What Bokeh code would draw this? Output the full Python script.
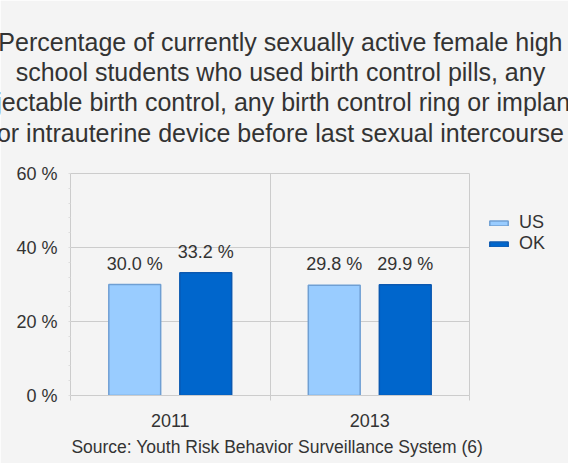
from bokeh.plotting import figure
from bokeh.models import (FixedTicker, Legend, LegendItem, ColumnDataSource,
                          PrintfTickFormatter, LinearAxis)
from bokeh.core.properties import value
from bokeh.embed import file_html
from bokeh.resources import INLINE

# ---- data ----
years = ["2011", "2013"]
us_values = [30.0, 29.8]
ok_values = [33.2, 29.9]
y_ticks = [0, 20, 40, 60]
title_lines = [
    "Percentage of currently sexually active female high",
    "school students who used birth control pills, any",
    "injectable birth control, any birth control ring or implant,",
    "or intrauterine device before last sexual intercourse",
]
source_text = "Source: Youth Risk Behavior Surveillance System (6)"

FONT = "Liberation Sans"
TXT = "#333333"
BG = "#f4f4f4"
GRID = "#cccccc"
US_FILL, US_LINE = "#99ccff", "#6f9fd3"
OK_FILL, OK_LINE = "#0066cc", "#0a58b0"

W, H = 568, 463
FL, FT, FW, FH = 70, 173, 399, 222

p = figure(frame_width=FW, frame_height=FH, x_range=(0, len(years)), y_range=(0, 60),
           output_backend="svg", toolbar_location=None,
           min_border_left=FL, min_border_top=FT,
           min_border_right=W - FL - FW, min_border_bottom=H - FT - FH)
p.background_fill_color = BG
p.border_fill_color = BG
p.outline_line_color = GRID

dodge = 0.178
bw = 0.26
idx = list(range(len(years)))
src = ColumnDataSource(dict(
    x_us=[i + 0.5 - dodge for i in idx],
    x_ok=[i + 0.5 + dodge for i in idx],
    us=us_values, ok=ok_values,
    us_lbl=[f"{v:.1f} %" for v in us_values],
    ok_lbl=[f"{v:.1f} %" for v in ok_values],
))

r_us = p.vbar(x="x_us", top="us", width=bw, source=src, fill_color=US_FILL,
              line_color=US_LINE, line_width=1.5)
r_ok = p.vbar(x="x_ok", top="ok", width=bw, source=src, fill_color=OK_FILL,
              line_color=OK_LINE, line_width=1.5)

for xc, yc, tc in (("x_us", "us", "us_lbl"), ("x_ok", "ok", "ok_lbl")):
    p.text(x=xc, y=yc, text=tc, source=src, y_offset=-21,
           text_align="center", text_baseline="alphabetic",
           text_font=value(FONT), text_font_size="18px", text_color=TXT)

# x axis (category labels between boundary ticks) + source line as its label
xa = p.xaxis[0]
xa.ticker = FixedTicker(ticks=[i + 0.5 for i in idx], minor_ticks=list(range(len(years) + 1)))
xa.major_label_overrides = {i + 0.5: y for i, y in zip(idx, years)}
xa.major_tick_out = 0
xa.major_tick_in = 0
xa.minor_tick_out = 5
xa.minor_tick_in = 0
xa.minor_tick_line_color = GRID
xa.axis_line_color = GRID
xa.major_label_standoff = 13
xa.major_label_text_font = FONT
xa.major_label_text_font_size = "18px"
xa.major_label_text_color = TXT
xa.axis_label = "\u00a0" * 3 + source_text
xa.axis_label_text_font = FONT
xa.axis_label_text_font_size = "17.5px"
xa.axis_label_text_font_style = "normal"
xa.axis_label_text_color = TXT
xa.axis_label_standoff = 7

ya = p.yaxis[0]
ya.ticker = FixedTicker(ticks=y_ticks, minor_ticks=list(range(0, 61, 4)))
ya.formatter = PrintfTickFormatter(format="%d %%")
ya.major_tick_out = 0
ya.major_tick_in = 0
ya.minor_tick_out = 2
ya.minor_tick_in = 0
ya.minor_tick_line_color = "#dddddd"
ya.axis_line_color = GRID
ya.major_label_standoff = 11
ya.major_label_text_font = FONT
ya.major_label_text_font_size = "18px"
ya.major_label_text_color = TXT

# title: label of an otherwise empty axis above the frame
ta = LinearAxis(ticker=FixedTicker(ticks=[]), axis_line_color=None,
                major_tick_line_color=None, minor_tick_line_color=None)
ta.axis_label = "\n".join("\u00a0" * 3 + t for t in title_lines)
ta.axis_label_text_font = FONT
ta.axis_label_text_font_size = "25px"
ta.axis_label_text_font_style = "normal"
ta.axis_label_text_color = TXT
ta.axis_label_text_line_height = 1.08
ta.axis_label_standoff = 27
p.add_layout(ta, "above")

p.xgrid.ticker = FixedTicker(ticks=list(range(len(years) + 1)))
p.ygrid.ticker = FixedTicker(ticks=y_ticks)
p.xgrid.grid_line_color = GRID
p.ygrid.grid_line_color = GRID

legend = Legend(items=[LegendItem(label="US", renderers=[r_us]),
                       LegendItem(label="OK", renderers=[r_ok])],
                location=(18, 141), orientation="vertical",
                glyph_width=23, glyph_height=6, label_height=20, label_standoff=9,
                spacing=0, padding=0, margin=18, border_line_color=None,
                background_fill_alpha=0, label_text_font=FONT,
                label_text_font_size="18px", label_text_color=TXT,
                label_text_baseline="middle")
p.add_layout(legend, "right")

open("out.html", "w").write(file_html(p, INLINE))
